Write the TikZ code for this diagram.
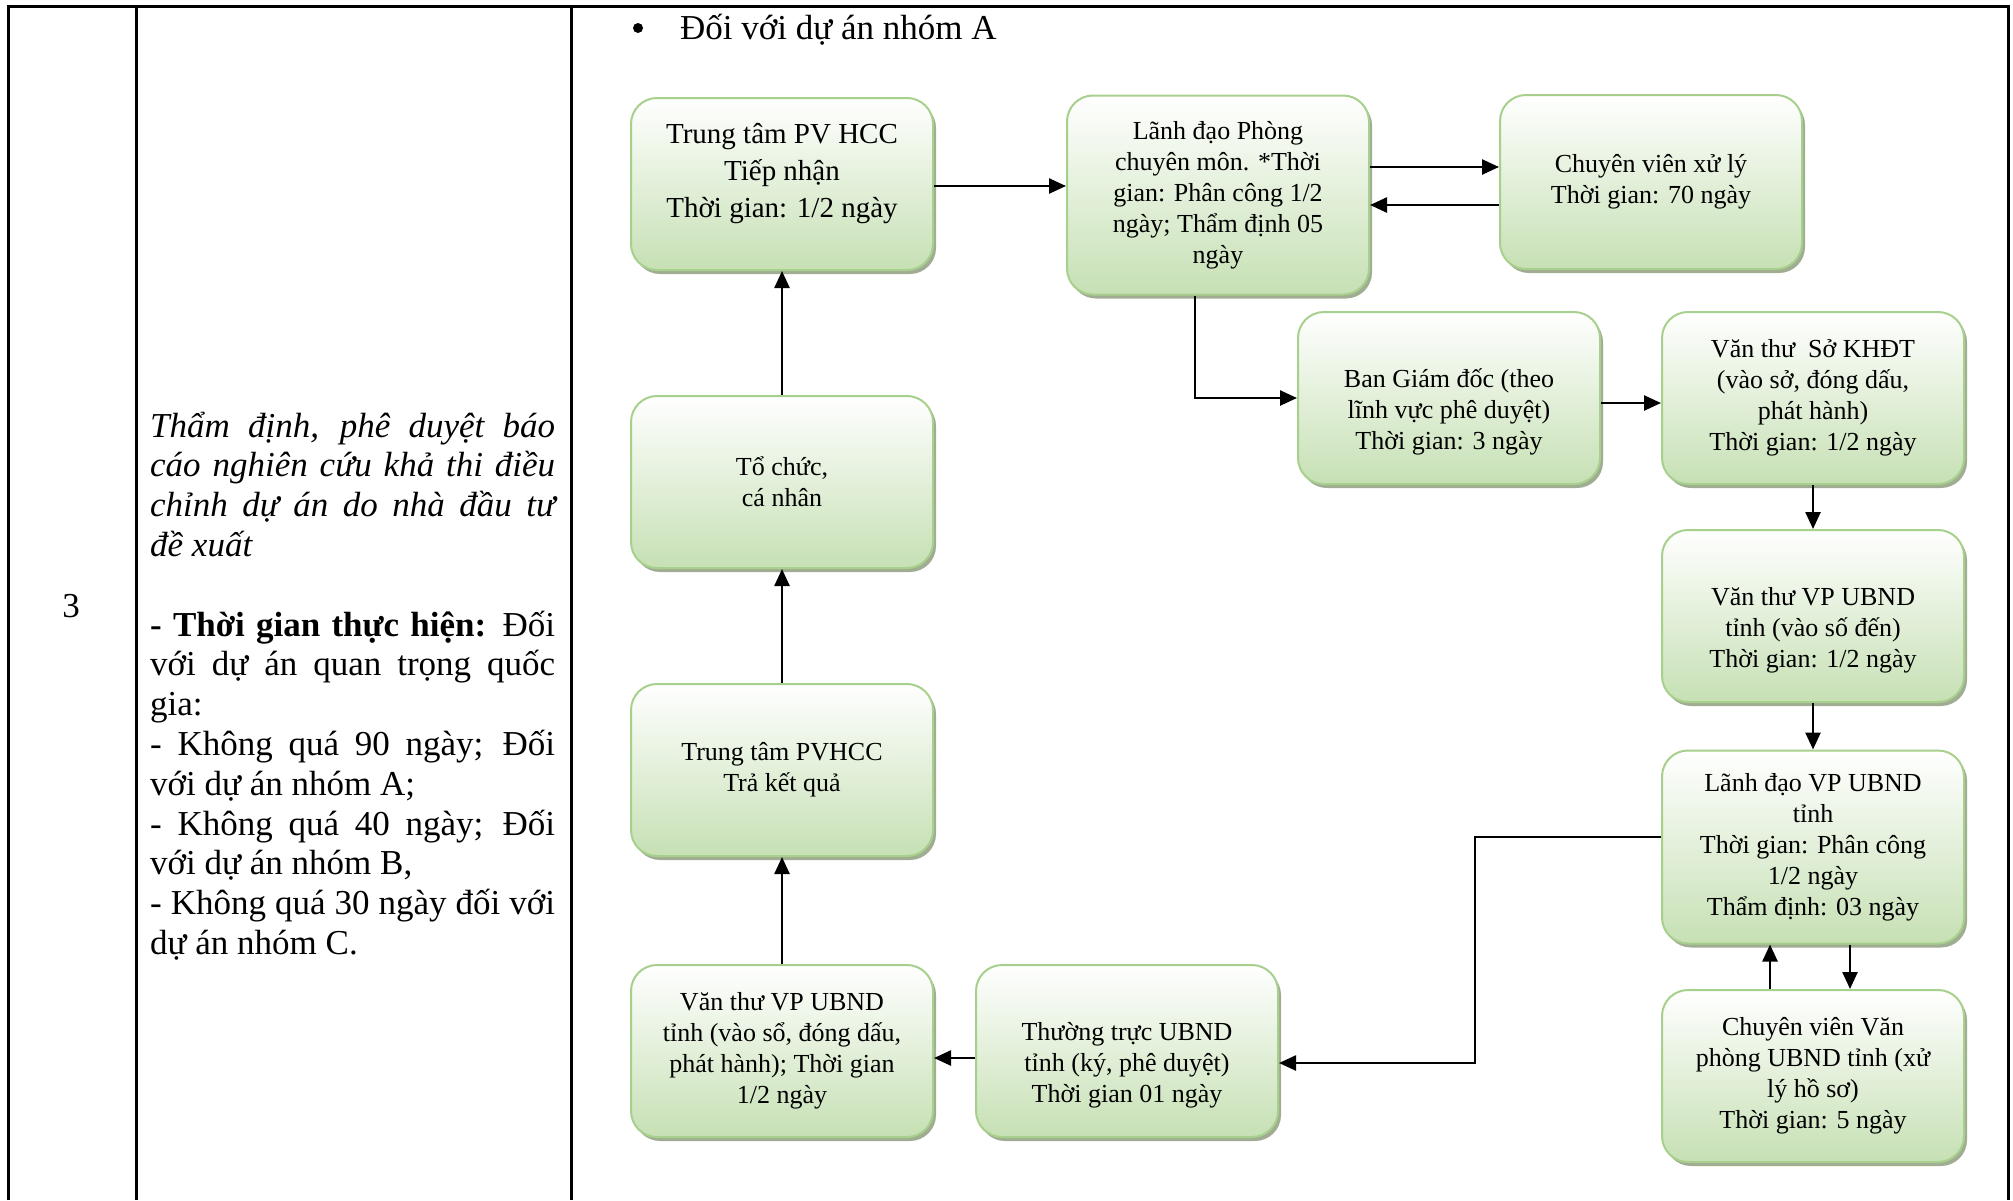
\documentclass[tikz,border=0pt]{standalone}
\usepackage{fontspec}
\setmainfont{Liberation Serif}
\usetikzlibrary{arrows.meta,shadows}
\definecolor{boxline}{HTML}{A8D08D}
\definecolor{boxfill}{HTML}{C6E0B4}
\definecolor{boxshadow}{HTML}{A0AD93}
\newcommand{\jl}[1]{\makebox[405pt][s]{#1}}
\tikzset{
  procbox/.style={draw=boxline, line width=2pt, rounded corners=26pt, top color=white, bottom color=boxfill,
    minimum width=302pt, minimum height=172pt, align=center, inner sep=4pt, font=\fontsize{26}{31}\selectfont,
    drop shadow={shadow xshift=3pt, shadow yshift=-4pt, fill=boxshadow, opacity=1}},
  textdown/.style={execute at begin node={\rule{0pt}{#1}}},
  textup/.style={execute at end node={\rule[-#1]{0pt}{#1}}},
  flow/.style={line width=2.5pt, -{Triangle[length=17pt,width=15pt]}},
  tabline/.style={line width=3pt}
}
\begin{document}
\begin{tikzpicture}[x=1pt, y=-1pt, font=\fontsize{35}{39.8}\selectfont]
\useasboundingbox (0,0) rectangle (2013,1200);
\draw[tabline] (8,1200) -- (8,6) -- (2008,6) -- (2008,1200);
\draw[tabline] (136,6) -- (136,1200);
\draw[tabline] (571,6) -- (571,1200);
\node[anchor=base] (num) at (71,617) {3};
\foreach \t [count=\i] in {{\jl{\itshape Thẩm định, phê duyệt báo}}, {\jl{\itshape cáo nghiên cứu khả thi điều}},
  {\jl{\itshape chỉnh dự án do nhà đầu tư}}, {\itshape đề xuất}, {},
  {\jl{\textbf{- Thời gian thực hiện:} Đối}}, {\jl{với dự án quan trọng quốc}}, {gia:},
  {\jl{- Không quá 90 ngày; Đối}}, {với dự án nhóm A;}, {\jl{- Không quá 40 ngày; Đối}},
  {với dự án nhóm B,}, {\jl{- Không quá 30 ngày đối với}}, {dự án nhóm C.}}
  \node[anchor=base west, inner sep=0pt] (desc\i) at (150,{437+39.8*(\i-1)}) {\t};
\node[anchor=base west, inner sep=0pt] (head) at (680,39) {Đối với dự án nhóm A};
\fill ([xshift=-42pt,yshift=11pt]head.base west) circle (5pt);
\node[procbox, textup=27pt, font=\fontsize{29}{36.6}\selectfont] (recv) at (782,184) {Trung tâm PV HCC\\Tiếp nhận\\Thời gian: 1/2 ngày};
\node[procbox, minimum height=199pt] (lead) at (1218,195) {Lãnh đạo Phòng\\chuyên môn. *Thời\\gian: Phân công 1/2\\ngày; Thẩm định 05\\ngày};
\node[procbox, minimum height=174pt] (expert) at (1651,182) {Chuyên viên xử lý\\Thời gian: 70 ngày};
\node[procbox, textdown=108pt] (board) at (1449,398) {Ban Giám đốc (theo\\lĩnh vực phê duyệt)\\Thời gian: 3 ngày};
\node[procbox] (clerk) at (1813,398) {Văn thư\ \ Sở KHĐT\\(vào sở, đóng dấu,\\phát hành)\\Thời gian: 1/2 ngày};
\node[procbox, textdown=108pt] (vpin) at (1813,616) {Văn thư VP UBND\\tỉnh (vào số đến)\\Thời gian: 1/2 ngày};
\node[procbox, minimum height=193pt] (vplead) at (1813,847) {Lãnh đạo VP UBND\\tỉnh\\Thời gian: Phân công\\1/2 ngày\\Thẩm định: 03 ngày};
\node[procbox] (vpexp) at (1813,1076) {Chuyên viên Văn\\phòng UBND tỉnh (xử\\lý hồ sơ)\\Thời gian: 5 ngày};
\node[procbox, textdown=108pt] (stand) at (1127,1051) {Thường trực UBND\\tỉnh (ký, phê duyệt)\\Thời gian 01 ngày};
\node[procbox] (vpout) at (782,1051) {Văn thư VP UBND\\tỉnh (vào sổ, đóng dấu,\\phát hành); Thời gian\\1/2 ngày};
\node[procbox] (result) at (782,770) {Trung tâm PVHCC\\Trả kết quả};
\node[procbox] (org) at (782,482) {Tổ chức,\\cá nhân};
\draw[flow] ([yshift=-2pt]recv.east) -- ([yshift=9pt]lead.west);
\draw[flow] ([yshift=28pt]lead.east) -- ([yshift=15pt]expert.west);
\draw[flow] ([yshift=-23pt]expert.west) -- ([yshift=-10pt]lead.east);
\draw[flow] ([xshift=-23pt]lead.south) |- (board.west);
\draw[flow] ([yshift=-5pt]board.east) -- ([yshift=-5pt]clerk.west);
\draw[flow] (clerk.south) -- (vpin.north);
\draw[flow] (vpin.south) -- (vplead.north);
\draw[flow] ([xshift=37pt]vplead.south) -- ([xshift=37pt]vpexp.north);
\draw[flow] ([xshift=-43pt]vpexp.north) -- ([xshift=-43pt]vplead.south);
\draw[flow] ([yshift=10pt]vplead.west) -- ++(-186,0) |- ([yshift=-12pt]stand.east);
\draw[flow] ([yshift=-7pt]stand.west) -- ([yshift=-7pt]vpout.east);
\draw[flow] (vpout.north) -- (result.south);
\draw[flow] (result.north) -- (org.south);
\draw[flow] (org.north) -- (recv.south);
\end{tikzpicture}
\end{document}
